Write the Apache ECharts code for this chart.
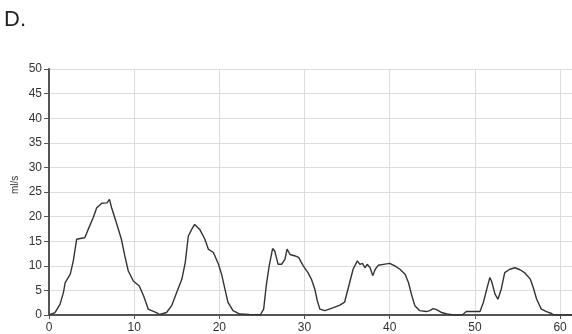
<!DOCTYPE html>
<html>
<head>
<meta charset="utf-8">
<script src="https://cdn.jsdelivr.net/npm/echarts@6/dist/echarts.min.js"></script>
<style>
  html, body { margin: 0; padding: 0; background: #fff; }
  #chart { width: 572px; height: 334px; }
</style>
</head>
<body>
<div id="chart"></div>
<script>
// Flow trace: time (s) and flow rate (ml/s)
const timeS = [
  0, 0.7, 1.3, 1.7, 1.9, 2.1, 2.5, 2.85, 3.25, 3.8, 4.2, 4.6, 5.2, 5.6, 6.2, 6.8, 7.1,
  7.35, 7.9, 8.5, 8.9, 9.3, 9.9, 10.6, 11.1, 11.65, 12.6, 13.0, 13.8,
  14.4, 15.0, 15.6, 16.0, 16.35, 16.75, 17.1, 17.7, 18.3, 18.7, 19.3, 19.9, 20.3, 20.65, 21.0, 21.6, 22.4,
  23.5, 24.8, 25.2, 25.5, 25.85, 26.25, 26.5, 26.9, 27.3, 27.7, 27.95, 28.3, 28.9, 29.3, 29.85,
  30.4, 30.8, 31.2, 31.5, 31.8, 32.4, 33.4, 34.15, 34.7, 35.3, 35.7, 36.2, 36.5, 36.8, 37.1, 37.35,
  37.7, 38.0, 38.3, 38.65, 39.25, 40.0, 40.6, 41.2, 41.8, 42.2, 42.6, 42.95, 43.5, 44.3, 44.7,
  45.1, 45.5, 46.1, 46.7, 47.5, 48.5, 49.0, 49.8, 50.6, 51.0, 51.4, 51.75, 51.95, 52.35, 52.7,
  53.1, 53.5, 54.1, 54.7, 55.3, 55.9, 56.5, 56.85, 57.25, 57.8, 58.4, 59.0, 59.3, 61.4
];
const flowMlS = [
  0, 0.5, 2.2, 4.6, 6.6, 6.3, 8.3, 11, 15.4, 15.6, 15.7, 17.4, 19.8, 21.8, 22.7, 22.8, 23.5,
  21.8, 18.8, 15.4, 12, 9, 6.9, 5.9, 3.9, 1.2, 0.5, 0.1, 0.5,
  1.9, 4.6, 7.3, 10.7, 16, 17.4, 18.4, 17.4, 15.4, 13.4, 12.7, 10.3, 8, 5.3, 2.6, 0.9, 0.2,
  0.1, 0, 1.2, 5.9, 10, 13.5, 13, 10.3, 10.3, 11.3, 13.4, 12.3, 12, 11.7, 10,
  8.6, 7.3, 5.3, 2.9, 1.2, 0.9, 1.5, 2, 2.6, 6.6, 9.3, 11, 10.3, 10.5, 9.6, 10.3,
  9.6, 8, 9.3, 10.1, 10.3, 10.5, 10, 9.3, 8.3, 6.6, 3.9, 1.9, 0.9, 0.7, 0.9,
  1.3, 1.1, 0.5, 0.2, 0, 0, 0.7, 0.7, 0.7, 2.6, 5.3, 7.6, 6.9, 4.3, 3.2,
  5.3, 8.6, 9.3, 9.6, 9.2, 8.5, 7.3, 5.6, 3.2, 1.2, 0.7, 0.3, 0, 0
];
const xTicks = { min: 0, max: 61.4, step: 10 };
const yTicks = { min: 0, max: 50, step: 5 };

const points = timeS.map((t, i) => [t, flowMlS[i]]);

const chart = echarts.init(document.getElementById('chart'), null, { renderer: 'canvas' });
const labelFont = { color: '#333', fontSize: 12, fontFamily: 'Liberation Sans, Arial, sans-serif' };

chart.setOption({
  animation: false,
  backgroundColor: '#fff',
  grid: { left: 49, right: 0, top: 69, bottom: 18, containLabel: false },
  graphic: [
    { type: 'text', left: 4, top: 9,
      style: { text: 'D.', fill: '#222', font: '22px "Liberation Sans", Arial, sans-serif' } },
    { type: 'text', x: 10, y: 194, rotation: Math.PI / 2,
      style: { text: 'ml/s', fill: '#333', font: '10px "Liberation Sans", Arial, sans-serif' } }
  ],
  xAxis: [
    {
      type: 'value', min: xTicks.min, max: xTicks.max, interval: xTicks.step,
      axisLine: { show: true, onZero: false, lineStyle: { color: '#555', width: 2 } },
      axisTick: { show: true, length: 4, lineStyle: { color: '#555' } },
      axisLabel: Object.assign({ margin: 7, showMaxLabel: false }, labelFont),
      splitLine: { show: true, lineStyle: { color: '#dcdcdc', width: 1 } }
    },
    {
      type: 'value', position: 'top', min: xTicks.min, max: xTicks.max,
      axisLine: { show: true, lineStyle: { color: '#555', width: 2 } },
      axisTick: { show: false }, axisLabel: { show: false }, splitLine: { show: false }
    }
  ],
  yAxis: {
    type: 'value', min: yTicks.min, max: yTicks.max, interval: yTicks.step,
    axisLine: { show: true, onZero: false, lineStyle: { color: '#555', width: 2 } },
    axisTick: { show: true, length: 5, lineStyle: { color: '#555' } },
    axisLabel: Object.assign({ margin: 7 }, labelFont),
    splitLine: { show: true, lineStyle: { color: '#dcdcdc', width: 1 } }
  },
  series: [{
    type: 'line',
    data: points,
    showSymbol: false,
    smooth: false,
    lineStyle: { color: '#333', width: 1.4 },
    z: 3
  }]
});
</script>
</body>
</html>
